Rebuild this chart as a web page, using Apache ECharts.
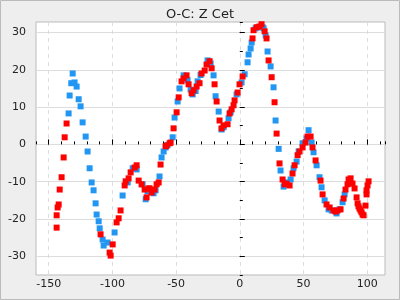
<!DOCTYPE html>
<html><head><meta charset="utf-8">
<script src="https://cdn.jsdelivr.net/npm/echarts@6/dist/echarts.min.js"></script>
<style>html,body{margin:0;padding:0;background:#eeeeee}#c{width:400px;height:300px}</style>
</head><body><div id="c"></div>
<script>
const titleText = 'O-C: Z Cet';
const blueX = [-134.4,-133.6,-132.3,-131.2,-129.7,-128.1,-126.5,-125.0,-123.4,-121.0,-119.5,-117.9,-116.3,-114.8,-113.2,-112.4,-110.8,-110.0,-107.7,-106.9,-103.8,-98.3,-92.0,-88.0,-84.1,-81.0,-76.3,-73.9,-72.4,-67.7,-66.1,-63.0,-61.4,-59.8,-58.2,-56.7,-52.7,-51.2,-48.8,-47.3,-44.1,-42.5,-41.0,-38.6,-37.0,-34.7,-33.1,-30.8,-25.3,-22.9,-20.6,-19.0,-16.6,-14.3,-12.7,-8.8,-7.2,-2.5,1.4,3.8,6.1,6.9,8.5,9.3,12.4,14.8,17.9,18.7,20.3,21.8,24.2,26.5,28.1,30.5,32.0,34.4,36.7,39.9,42.2,44.6,46.2,49.3,52.4,54.0,56.4,57.9,60.3,62.6,64.2,66.6,69.7,72.1,76.0,78.3,80.7,82.3];
const blueY = [8.3,13.1,16.4,19.0,16.6,15.5,12.1,10.2,5.9,2.1,-1.9,-6.4,-10.2,-12.3,-15.8,-18.8,-20.6,-22.5,-25.5,-27.1,-26.3,-23.6,-13.7,-10.2,-6.4,-6.7,-10.7,-14.7,-12.6,-13.1,-12.3,-8.6,-3.5,-1.9,-0.8,-0.2,1.9,7.2,11.5,15.0,18.5,18.1,17.2,14.7,13.4,14.3,16.9,18.6,22.5,21.7,18.5,12.9,8.8,4.0,4.6,7.0,8.6,13.4,16.6,18.8,22.0,24.1,25.7,27.3,31.1,31.4,31.4,31.1,29.2,24.9,20.9,15.3,6.4,-1.2,-7.0,-11.3,-10.2,-9.4,-6.4,-4.6,-1.9,0.3,1.6,3.8,0.5,-2.1,-5.6,-8.8,-11.5,-15.0,-17.4,-17.7,-18.5,-17.4,-15.5,-13.4];
const redX = [-143.8,-143.8,-143.0,-142.2,-141.4,-139.9,-138.3,-137.5,-136.0,-109.3,-102.2,-101.4,-99.8,-96.7,-95.1,-93.6,-90.4,-89.6,-87.3,-85.7,-82.6,-81.0,-79.4,-77.1,-74.7,-73.2,-71.6,-70.8,-69.2,-66.9,-65.3,-63.7,-62.2,-58.2,-57.5,-55.1,-54.3,-52.0,-49.6,-48.0,-45.7,-44.1,-41.8,-40.2,-37.8,-36.3,-33.9,-31.6,-30.0,-27.6,-26.1,-23.7,-22.1,-19.8,-18.2,-15.9,-14.3,-12.7,-9.6,-8.0,-6.4,-4.9,-4.1,-1.7,-0.2,2.2,10.0,10.8,13.2,15.5,17.1,19.5,21.0,22.6,25.0,27.3,28.9,31.2,33.6,35.2,36.7,39.1,41.4,43.0,45.4,46.9,49.3,51.6,53.2,55.6,57.1,59.5,63.4,65.0,68.1,70.5,73.6,75.2,76.8,79.1,81.5,83.0,84.6,85.4,87.0,88.5,90.1,91.7,92.5,93.2,94.0,94.8,95.6,96.4,97.2,98.7,99.5,99.5,100.3,101.1];
const redY = [-22.3,-19.0,-16.9,-16.1,-12.1,-8.8,-3.5,1.9,5.6,-24.1,-29.0,-29.8,-26.8,-20.9,-19.8,-17.7,-11.0,-9.9,-9.1,-7.5,-6.2,-5.6,-9.7,-10.7,-12.1,-14.2,-11.8,-11.8,-12.9,-12.1,-10.7,-10.2,-5.4,-0.5,-0.3,0.3,0.5,4.3,8.6,12.6,16.9,17.7,18.5,16.1,13.7,14.5,15.5,16.4,19.0,19.8,21.4,22.3,20.4,16.1,11.5,6.4,4.3,5.1,5.4,8.3,9.4,10.5,11.8,13.9,16.1,18.2,28.4,30.6,31.4,31.6,32.2,30.3,28.4,22.5,18.0,11.3,2.9,-5.1,-9.4,-10.7,-10.5,-11.0,-7.8,-5.6,-2.9,-1.9,-0.8,0.5,2.1,2.1,-0.8,-4.3,-9.7,-13.4,-16.1,-16.9,-17.7,-18.0,-17.7,-17.4,-14.5,-12.1,-10.7,-9.4,-9.1,-10.5,-11.8,-14.2,-15.8,-16.6,-17.2,-17.7,-18.2,-18.8,-19.0,-16.4,-13.4,-12.3,-11.0,-9.9];

const xMin = -160, xMax = 114, yMin = -35, yMax = 32.8;
const G = {left: 36, right: 15, top: 22, bottom: 25};
const W = 400 - G.left - G.right, H = 300 - G.top - G.bottom;
const px = v => G.left + (v - xMin) / (xMax - xMin) * W;
const py = v => G.top + (yMax - v) / (yMax - yMin) * H;

const zip = (a, b) => a.map((v, i) => [v, b[i]]);
const font = 'DejaVu Sans';
const chart = echarts.init(document.getElementById('c'), null, {renderer: 'canvas'});
chart.setOption({
  animation: false,
  backgroundColor: '#eeeeee',
  title: {text: titleText, left: 'center', top: 3, textStyle: {fontFamily: font, fontSize: 13, fontWeight: 'normal', color: '#222'}},
  graphic: [{type: 'rect', shape: {x: 0.5, y: 0.5, width: 399, height: 299}, style: {fill: null, stroke: '#bbbbbb', lineWidth: 1}, silent: true, z: 100}],
  grid: [
    {left: G.left, right: G.right, top: G.top, bottom: G.bottom, show: true, backgroundColor: '#fff', borderColor: '#bbbbbb', borderWidth: 1, z: 0},
    {left: px(-150), right: 400 - px(100), top: G.top, bottom: G.bottom},
    {left: G.left, right: G.right, top: py(30), bottom: 300 - py(-30)}
  ],
  xAxis: [
    {gridIndex: 0, type: 'value', min: xMin, max: xMax, interval: 10, axisLine: {show: false}, axisTick: {show: true, inside: true, length: 3, lineStyle: {color: '#000'}}, axisLabel: {show: false}, splitLine: {show: false}},
    {gridIndex: 1, type: 'value', min: -150, max: 100, interval: 50, axisLine: {show: false}, axisTick: {show: true, inside: true, length: 5, lineStyle: {color: '#000'}}, axisLabel: {show: true, margin: 4, fontFamily: font, fontSize: 11, color: '#222'}, splitLine: {show: true, lineStyle: {color: '#dddddd', type: [4, 4]}}},
    {gridIndex: 2, type: 'value', min: xMin, max: xMax, show: false}
  ],
  yAxis: [
    {gridIndex: 0, type: 'value', min: yMin, max: yMax, interval: 5, axisLine: {show: false}, axisTick: {show: true, inside: true, length: 3, lineStyle: {color: '#000'}}, axisLabel: {show: false}, splitLine: {show: false}},
    {gridIndex: 1, type: 'value', min: yMin, max: yMax, show: false},
    {gridIndex: 2, type: 'value', min: -30, max: 30, interval: 10, axisLine: {show: false}, axisTick: {show: true, inside: true, length: 5, lineStyle: {color: '#000'}}, axisLabel: {show: true, margin: 10, fontFamily: font, fontSize: 11, color: '#222'}, splitLine: {show: true, lineStyle: {color: '#dddddd', type: 'solid'}}}
  ],
  series: [
    {type: 'scatter', xAxisIndex: 0, yAxisIndex: 0, symbol: 'rect', symbolSize: 6, itemStyle: {color: '#2196f3', opacity: 1}, data: zip(blueX, blueY), z: 5},
    {type: 'scatter', xAxisIndex: 0, yAxisIndex: 0, symbol: 'rect', symbolSize: 6, itemStyle: {color: '#ff0000', opacity: 1}, data: zip(redX, redY), z: 6}
  ]
});
</script></body></html>
